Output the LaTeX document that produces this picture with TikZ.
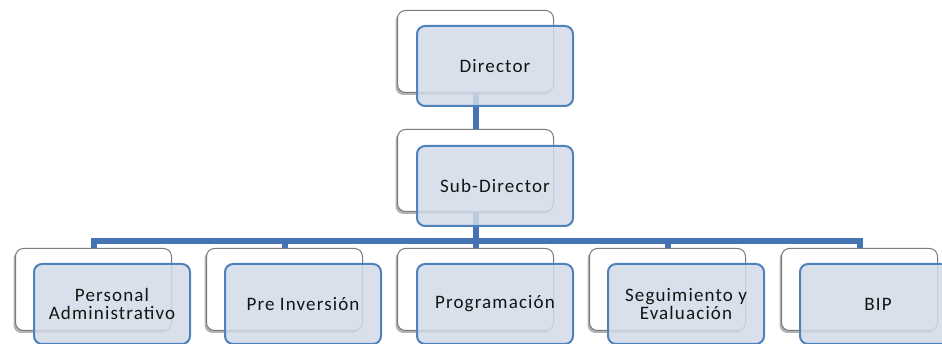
\documentclass[tikz,border=0pt]{standalone}
\usepackage{fontspec}
\setmainfont{Carlito}
\newfontfamily\boxfont[LetterSpace=6]{Carlito}
\usetikzlibrary{shadows}
\definecolor{linkblue}{HTML}{4674B2}
\definecolor{frontfill}{HTML}{D2DBE9}
\definecolor{frontedge}{HTML}{4F81BD}
\definecolor{backedge}{HTML}{7A7A7A}
\begin{document}
\begin{tikzpicture}[x=1pt,y=-1pt,
  backbox/.style={draw=backedge, line width=1pt, fill=white, rounded corners=8pt,
    minimum width=156pt, minimum height=82pt, anchor=north west, inner sep=0pt,
    drop shadow={shadow xshift=-2pt, shadow yshift=-2.5pt, opacity=0.5, fill=black!60}},
  frontbox/.style={draw=frontedge, line width=2pt, fill=frontfill, fill opacity=0.85,
    text opacity=1, rounded corners=8pt, minimum width=156pt, minimum height=80pt,
    anchor=north west, inner sep=2pt, align=center,
    font=\boxfont\fontsize{19}{18.5}\selectfont, text=black!92},
  conn/.style={draw=linkblue, line width=6pt}]
\useasboundingbox (0,0) rectangle (942,344);

% back (white) boxes
\node[backbox] (dirB) at (397,10) {};
\node[backbox] (subB) at (397,129) {};
\node[backbox] (c1B) at (15,248) {};
\node[backbox] (c2B) at (206,248) {};
\node[backbox] (c3B) at (397,248) {};
\node[backbox] (c4B) at (589,248) {};
\node[backbox] (c5B) at (781,248) {};

% connectors
\draw[conn] (dirB.south) -- (subB.north);
\foreach \c in {c1B,c2B,c3B,c4B,c5B}
  \draw[conn] (subB.south) -- ++(0,29) -| (\c.north);

% front (blue) boxes
\node[frontbox] (dirF) at (416,25) {Director};
\node[frontbox] (subF) at (416,145) {Sub-Director};
\node[frontbox] (c1F) at (33,263) {Personal\\Administrativo};
\node[frontbox] (c2F) at (224,263) {Pre Inversión};
\node[frontbox] (c3F) at (416,263) {Programación};
\node[frontbox] (c4F) at (607,263) {Seguimiento y\\Evaluación};
\node[frontbox] (c5F) at (799,263) {BIP};
\end{tikzpicture}
\end{document}
